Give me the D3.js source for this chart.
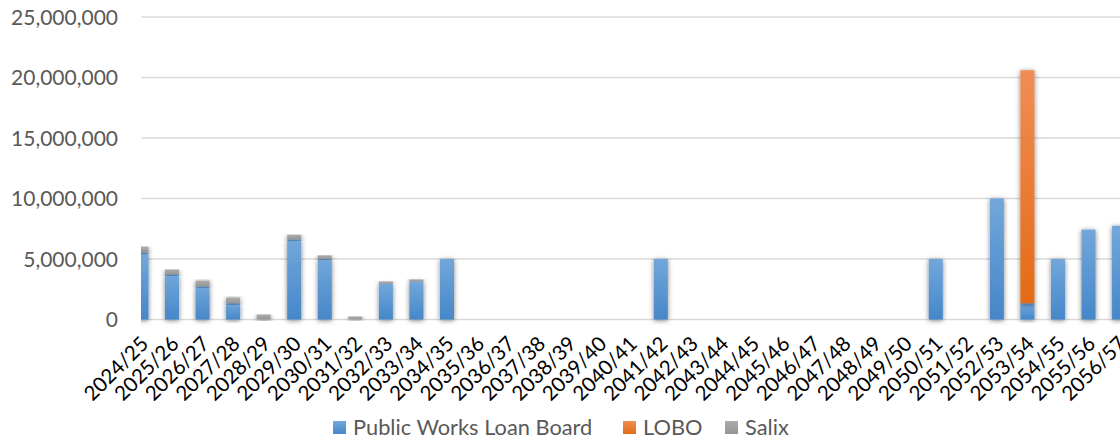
<!DOCTYPE html>
<html>
<head>
<meta charset="utf-8">
<script src="https://cdn.jsdelivr.net/npm/d3@7"></script>
<style>
  html, body { margin: 0; padding: 0; background: #fff; }
  svg { display: block; }
</style>
</head>
<body>
<svg id="chart" width="1120" height="442"></svg>
<script>
// Financial years on the x axis
const years = [
  "2024/25","2025/26","2026/27","2027/28","2028/29","2029/30","2030/31","2031/32",
  "2032/33","2033/34","2034/35","2035/36","2036/37","2037/38","2038/39","2039/40",
  "2040/41","2041/42","2042/43","2043/44","2044/45","2045/46","2046/47","2047/48",
  "2048/49","2049/50","2050/51","2051/52","2052/53","2053/54","2054/55","2055/56","2056/57"
];

// Principal repayments per year, by lender
const pwlb = [
  5550000, 3740000, 2750000, 1350000, 0, 6630000, 5000000, 0,
  2970000, 3140000, 5000000, 0, 0, 0, 0, 0,
  0, 5000000, 0, 0, 0, 0, 0, 0,
  0, 0, 5000000, 0, 10000000, 1350000, 5000000, 7430000, 7750000
];
const lobo = [
  0, 0, 0, 0, 0, 0, 0, 0,
  0, 0, 0, 0, 0, 0, 0, 0,
  0, 0, 0, 0, 0, 0, 0, 0,
  0, 0, 0, 0, 0, 19250000, 0, 0, 0
];
const salix = [
  470000, 390000, 470000, 470000, 410000, 370000, 300000, 250000,
  170000, 170000, 0, 0, 0, 0, 0, 0,
  0, 0, 0, 0, 0, 0, 0, 0,
  0, 0, 0, 0, 0, 0, 0, 0, 0
];

const yTicks = [0, 5000000, 10000000, 15000000, 20000000, 25000000];
const seriesNames = ["Public Works Loan Board", "LOBO", "Salix"];

const rows = years.map((y, i) => ({
  year: y,
  "Public Works Loan Board": pwlb[i],
  "LOBO": lobo[i],
  "Salix": salix[i]
}));

const svg = d3.select("#chart");
const plotLeft = 141, plotRight = 1120;

const x = d3.scaleBand()
  .domain(years)
  .range([126.2, 126.2 + 33 * 30.55])
  .paddingInner(0.54)
  .paddingOuter(0.27);

const y = d3.scaleLinear().domain([0, 25000000]).range([319.5, 17]);

const defs = svg.append("defs");

const grads = [
  { id: "gBlue", top: "#72a7db", bottom: "#4587c9" },
  { id: "gOrange", top: "#f08d55", bottom: "#e36b17" },
  { id: "gGray", top: "#acacac", bottom: "#959595" }
];
grads.forEach(g => {
  const lg = defs.append("linearGradient").attr("id", g.id)
    .attr("x1", 0).attr("y1", 0).attr("x2", 0).attr("y2", 1);
  lg.append("stop").attr("offset", "0%").attr("stop-color", g.top);
  lg.append("stop").attr("offset", "100%").attr("stop-color", g.bottom);
});

const flt = defs.append("filter").attr("id", "shadow")
  .attr("x", "-60%").attr("y", "-10%").attr("width", "220%").attr("height", "130%");
flt.append("feDropShadow").attr("dx", 0).attr("dy", 1).attr("stdDeviation", 2.4)
  .attr("flood-color", "#000").attr("flood-opacity", 0.5);

defs.append("clipPath").attr("id", "plotClip")
  .append("rect").attr("x", plotLeft).attr("y", 0)
  .attr("width", plotRight - plotLeft).attr("height", 330);

const colorFill = {
  "Public Works Loan Board": "url(#gBlue)",
  "LOBO": "url(#gOrange)",
  "Salix": "url(#gGray)"
};

// Horizontal gridlines
svg.append("g")
  .selectAll("line")
  .data(yTicks)
  .join("line")
  .attr("x1", plotLeft + 0.5).attr("x2", plotRight)
  .attr("y1", d => y(d)).attr("y2", d => y(d))
  .attr("stroke", "#d9d9d9").attr("stroke-width", 1.5);

// Y axis labels
const yAxis = d3.axisLeft(y).tickValues(yTicks).tickSize(0)
  .tickFormat(d3.format(","));
const yg = svg.append("g").attr("transform", "translate(118,0)").call(yAxis);
yg.select(".domain").remove();
yg.selectAll("text")
  .attr("x", 0).attr("dy", "0.35em")
  .attr("fill", "#595959")
  .attr("font-family", "Lato, 'Open Sans', sans-serif")
  .attr("font-size", 21);

// Stacked bars
const stack = d3.stack().keys(seriesNames)(rows);
const barG = svg.append("g").attr("clip-path", "url(#plotClip)");
barG.selectAll("g.series")
  .data(stack)
  .join("g").attr("class", "series")
  .attr("fill", d => colorFill[d.key])
  .selectAll("rect")
  .data(d => d.filter(v => v[1] - v[0] > 0))
  .join("rect")
  .attr("x", d => x(d.data.year))
  .attr("width", x.bandwidth())
  .attr("y", d => y(d[1]))
  .attr("height", d => y(d[0]) - y(d[1]))
  .attr("filter", "url(#shadow)");

// X axis labels, rotated
svg.append("g")
  .selectAll("text")
  .data(years)
  .join("text")
  .attr("transform", d => `translate(${x(d) + x.bandwidth() / 2 + 3},${340}) rotate(-45)`)
  .attr("text-anchor", "end")
  .attr("dy", "0.35em")
  .attr("fill", "#000")
  .attr("font-family", "Lato, 'Open Sans', sans-serif")
  .attr("font-size", 20.5)
  .text(d => d);

// Legend
const legendItems = [
  { name: "Public Works Loan Board", x: 333 },
  { name: "LOBO", x: 623 },
  { name: "Salix", x: 725 }
];
const li = svg.append("g").selectAll("g").data(legendItems).join("g")
  .attr("transform", d => `translate(${d.x},421)`);
li.append("rect").attr("width", 13).attr("height", 13)
  .attr("fill", d => colorFill[d.name]);
li.append("text").attr("x", 20).attr("y", 6.5).attr("dy", "0.35em")
  .attr("fill", "#595959")
  .attr("font-family", "Lato, 'Open Sans', sans-serif")
  .attr("font-size", 21.8)
  .text(d => d.name);
</script>
</body>
</html>
